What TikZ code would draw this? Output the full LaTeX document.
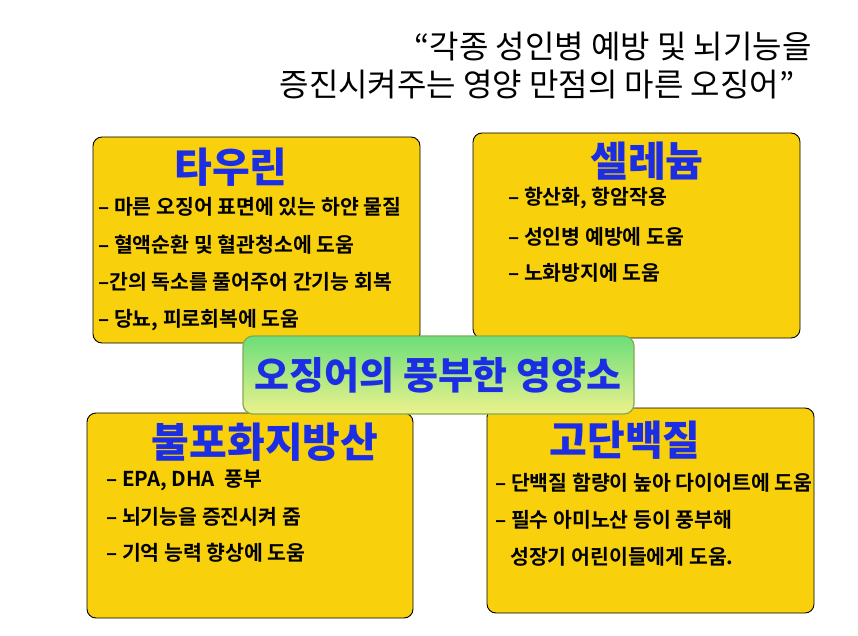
\documentclass[tikz,border=0pt]{standalone}
\usepackage{fontspec}
\setmainfont{Noto Sans CJK KR}[BoldFont={Noto Sans CJK KR Bold}]
\newfontfamily\heavyfont{Noto Sans CJK KR Black}
\usepackage{tikz}
\definecolor{boxyellow}{RGB}{248,209,12}
\definecolor{titleblue}{RGB}{28,46,228}
\definecolor{topgreen}{RGB}{108,222,122}
\definecolor{lowgreen}{RGB}{236,242,140}
\definecolor{rimgreen}{RGB}{130,170,80}
\tikzset{
  infobox/.style={draw=black, line width=0.9pt, fill=boxyellow, rounded corners=9pt, inner sep=0pt},
  centerbox/.style={draw=rimgreen, line width=1.2pt, top color=topgreen, bottom color=lowgreen, rounded corners=10pt, inner sep=0pt},
  boxtitle/.style={text=titleblue, font=\fontsize{41}{44}\selectfont\heavyfont, inner sep=0pt},
  itemtext/.style={anchor=west, font=\fontsize{20.5}{22}\selectfont\bfseries, inner sep=0pt},
  headline/.style={font=\fontsize{32}{36}\selectfont, inner sep=0pt}
}
\begin{document}
\begin{tikzpicture}[x=1pt,y=-1pt]
\useasboundingbox (0,0) rectangle (858,636);
\node[headline] (head1) at (613,47) {“각종 성인병 예방 및 뇌기능을};
\node[headline] (head2) at (537,85) {증진시켜주는 영양 만점의 마른 오징어”};
\draw[infobox] (93,137) rectangle (420,343);
\draw[infobox] (473,133) rectangle (800,338);
\draw[infobox] (87,413) rectangle (413,618);
\draw[infobox] (487,408) rectangle (814,613);
\node[boxtitle] (taurine) at (231,167) {타우린};
\node[itemtext] (taurine1) at (98,207) {– 마른 오징어 표면에 있는 하얀 물질};
\node[itemtext] (taurine2) at (98,245) {– 혈액순환 및 혈관청소에 도움};
\node[itemtext] (taurine3) at (98,282) {–간의 독소를 풀어주어 간기능 회복};
\node[itemtext] (taurine4) at (98,320) {– 당뇨, 피로회복에 도움};
\node[boxtitle] (selenium) at (647,161) {셀레늄};
\node[itemtext] (selenium1) at (508,198) {– 항산화, 항암작용};
\node[itemtext] (selenium2) at (508,237) {– 성인병 예방에 도움};
\node[itemtext] (selenium3) at (508,273) {– 노화방지에 도움};
\node[boxtitle] (fattyacid) at (265,442) {불포화지방산};
\node[itemtext] (fattyacid1) at (106,480) {– EPA, DHA\ \ 풍부};
\node[itemtext] (fattyacid2) at (106,517) {– 뇌기능을 증진시켜 줌};
\node[itemtext] (fattyacid3) at (106,553) {– 기억 능력 향상에 도움};
\node[boxtitle] (protein) at (625,440) {고단백질};
\node[itemtext] (protein1) at (495,483) {– 단백질 함량이 높아 다이어트에 도움};
\node[itemtext] (protein2) at (495,520) {– 필수 아미노산 등이 풍부해};
\node[itemtext] (protein3) at (510,557) {성장기 어린이들에게 도움.};
\draw[centerbox] (243,336) rectangle (634,414);
\node[boxtitle, font=\fontsize{38}{41}\selectfont\heavyfont] (nutrients) at (438,375) {오징어의 풍부한 영양소};
\end{tikzpicture}
\end{document}
